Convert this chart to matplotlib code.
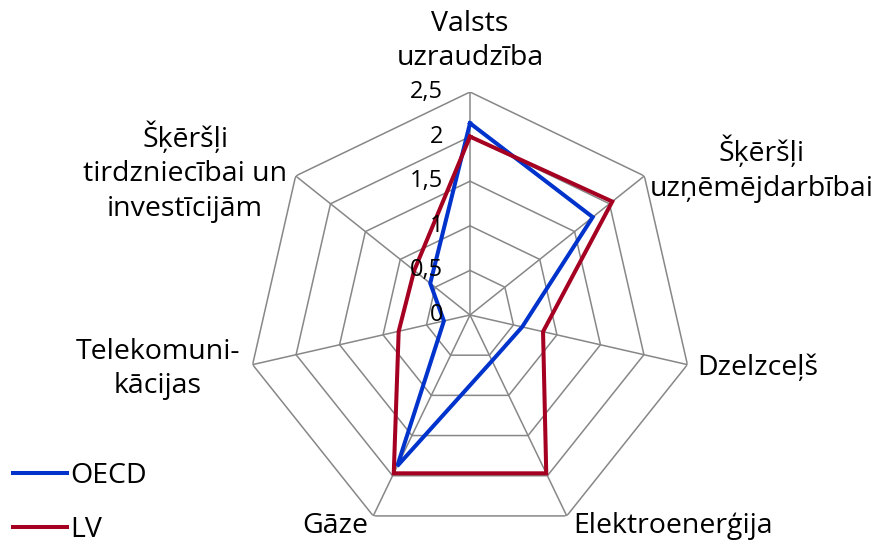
import numpy as np
import matplotlib
matplotlib.use("Agg")
import matplotlib.pyplot as plt
from matplotlib.transforms import offset_copy
from matplotlib.lines import Line2D

categories = ["Valsts\nuzraudzība", "Šķēršļi\nuzņēmējdarbībai", "Dzelzceļš",
              "Elektroenerģija", "Gāze", "Telekomuni-\nkācijas",
              "Šķēršļi\ntirdzniecībai un\ninvestīcijām"]
oecd = [2.15, 1.76, 0.60, 0.57, 1.88, 0.30, 0.57]
lv = [2.00, 2.04, 0.84, 1.97, 1.97, 0.82, 0.80]
ticks = [0, 0.5, 1, 1.5, 2, 2.5]
tick_labels = ["0", "0,5", "1", "1,5", "2", "2,5"]
series_names = ["OECD", "LV"]

plt.rcParams['font.family'] = ['Open Sans', 'DejaVu Sans']
W, H = 873, 543
fig = plt.figure(figsize=(W / 100, H / 100), dpi=100)

cx, cy, R = 470, 315, 223
ax = fig.add_axes([(cx - R) / W, (H - cy - R) / H, 2 * R / W, 2 * R / H], projection='polar')
ax.set_theta_offset(np.pi / 2)
ax.set_theta_direction(-1)
ax.set_ylim(0, ticks[-1])
ax.grid(False)
ax.spines['polar'].set_visible(False)
ax.set_xticks([])
ax.set_yticks([])
ax.patch.set_alpha(0)

n = len(categories)
ang = np.linspace(0, 2 * np.pi, n, endpoint=False)
ang_c = np.append(ang, ang[0])
grid_c = "#878787"
for t in ticks[1:]:
    ax.plot(ang_c, [t] * (n + 1), color=grid_c, lw=1.1, zorder=1)
for a in ang:
    ax.plot([a, a], [0, ticks[-1]], color=grid_c, lw=1.1, zorder=1)

colors = ["#0033cc", "#a50021"]
for vals, col in zip([oecd, lv], colors):
    ax.plot(ang_c, list(vals) + [vals[0]], color=col, lw=2.9, zorder=3,
            solid_joinstyle='miter')

tr = offset_copy(ax.transData, fig=fig, x=-27, y=0, units='dots')
for t, lab in zip(ticks, tick_labels):
    ax.text(0, t, lab, transform=tr, ha='right', va='center', fontsize=17, zorder=4)

fs = 20.5
label_pos = [(470, 41, 'center'), (762, 169, 'center'), (697, 368, 'left'),
             (573, 526, 'left'), (368, 526, 'right'), (158, 369, 'center'),
             (185, 172, 'center')]
for lab, (x, y, ha) in zip(categories, label_pos):
    fig.text(x / W, 1 - y / H, lab, ha=ha, va='center', fontsize=fs,
             multialignment='center', linespacing=1.32)

handles = [Line2D([0], [0], color=c, lw=2.9) for c in colors]
fig.legend(handles, series_names, loc='upper left', bbox_to_anchor=(13 / W, 1 - 462 / H),
           frameon=False, fontsize=fs, handlelength=1.9, handletextpad=0.12,
           labelspacing=0.9, borderaxespad=0, borderpad=0)

fig.savefig("out.png", dpi=100)
